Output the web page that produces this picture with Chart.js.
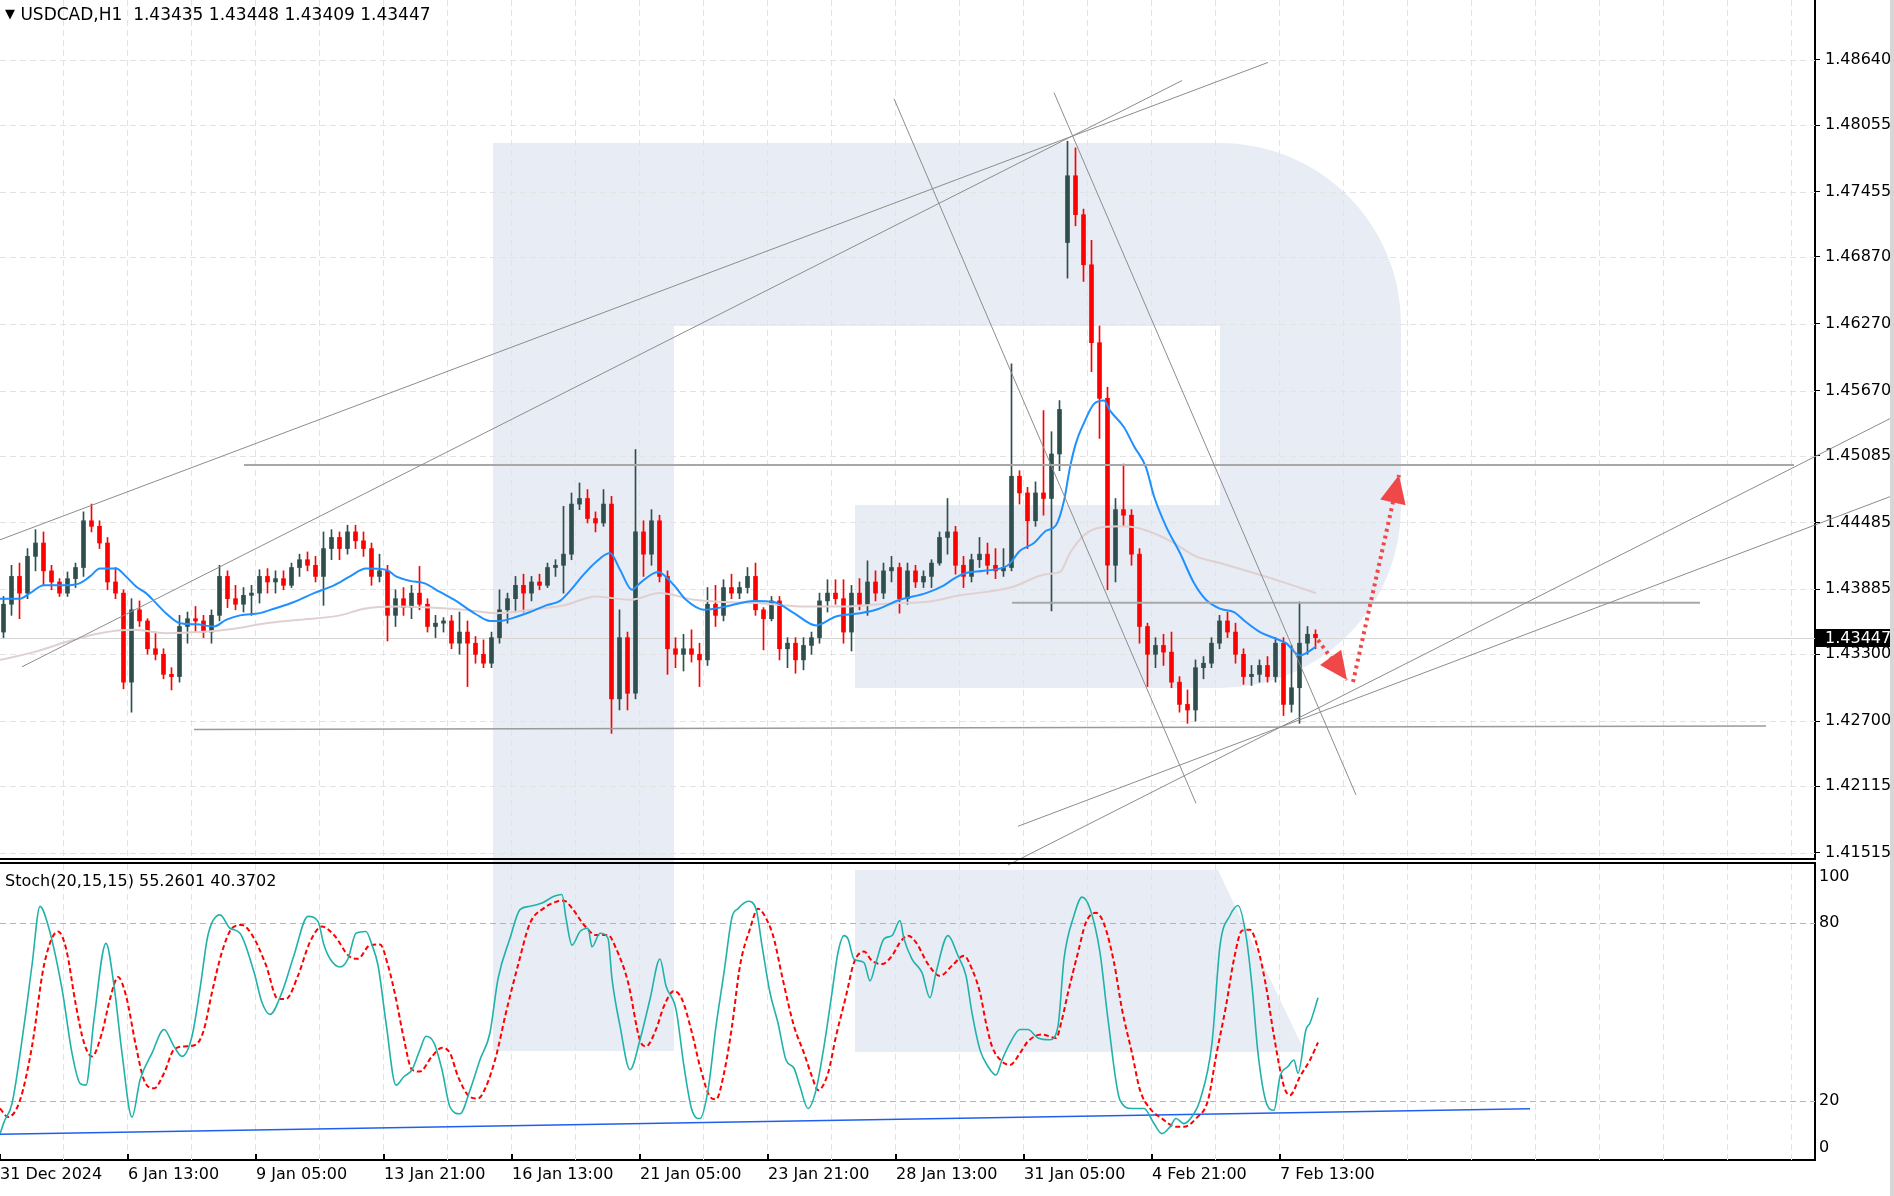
<!DOCTYPE html>
<html>
<head>
<meta charset="utf-8">
<script src="https://cdn.jsdelivr.net/npm/chart.js@4.4.1/dist/chart.umd.min.js"></script>
<style>
  html, body { margin: 0; padding: 0; background: #fff; }
  #wrap { position: relative; width: 1894px; height: 1196px; overflow: hidden; font-family: "DejaVu Sans", sans-serif; }
  canvas { position: absolute; left: 0; }
  #logo { top: 0; }
  #mainChart { top: 0; }
  #stochChart { top: 858px; }
  .label { position: absolute; font-size: 16px; color: #000; white-space: pre; }
  #edge { position: absolute; right: 0; top: 0; width: 4px; height: 1196px; background: #d6d6d6; }
</style>
</head>
<body>
<div id="wrap">
  <canvas id="logo" width="1894" height="1196"></canvas>
  <canvas id="mainChart" width="1894" height="866"></canvas>
  <canvas id="stochChart" width="1894" height="338"></canvas>
  <div class="label" id="head" style="left:5px;top:4px;font-size:17px"></div>
  <div class="label" id="stochHead" style="left:5px;top:871px"></div>
  <div id="edge"></div>
</div>
<script>
// =============================
// DATA (USDCAD H1, 4-hour candles)
// =============================
const timeLabels = ["31 Dec 2024", "6 Jan 13:00", "9 Jan 05:00", "13 Jan 21:00", "16 Jan 13:00",
  "21 Jan 05:00", "23 Jan 21:00", "28 Jan 13:00", "31 Jan 05:00", "4 Feb 21:00", "7 Feb 13:00"];
const tickBars = [0, 64, 128, 192, 256, 320, 384, 448, 512, 576, 640];
const priceTicks = [1.48640, 1.48055, 1.47455, 1.46870, 1.46270, 1.45670, 1.45085,
  1.44485, 1.43885, 1.43300, 1.42700, 1.42115, 1.41515];
const stochTicks = [0, 20, 80, 100];
const stochLevels = [20, 80];
const lastQuote = [1.43435, 1.43448, 1.43409, 1.43447];
const stochLast = [55.2601, 40.3702];

const opens = [
  1.4350,1.4375,1.4400,1.4385,1.4418,1.4430,1.4405,1.4395,1.4385,1.4398,
  1.4408,1.4450,1.4445,1.4430,1.4395,1.4385,1.4305,1.4370,1.4360,1.4335,
  1.4330,1.4312,1.4310,1.4355,1.4362,1.4360,1.4350,1.4365,1.4400,1.4380,
  1.4375,1.4383,1.4385,1.4400,1.4395,1.4398,1.4392,1.4408,1.4415,1.4410,
  1.4400,1.4425,1.4435,1.4425,1.4440,1.4432,1.4425,1.4400,1.4405,1.4365,
  1.4380,1.4372,1.4385,1.4375,1.4355,1.4358,1.4360,1.4340,1.4350,1.4340,
  1.4330,1.4322,1.4345,1.4370,1.4380,1.4392,1.4385,1.4395,1.4392,1.4408,
  1.4410,1.4420,1.4465,1.4470,1.4452,1.4448,1.4465,1.4290,1.4345,1.4295,
  1.4440,1.4420,1.4450,1.4400,1.4335,1.4330,1.4335,1.4330,1.4325,1.4375,
  1.4365,1.4390,1.4385,1.4390,1.4400,1.4370,1.4362,1.4378,1.4335,1.4340,
  1.4325,1.4338,1.4345,1.4378,1.4385,1.4380,1.4350,1.4385,1.4375,1.4395,
  1.4385,1.4405,1.4408,1.4380,1.4405,1.4395,1.4400,1.4412,1.4435,1.4440,
  1.4410,1.4400,1.4415,1.4420,1.4410,1.4405,1.4408,1.4490,1.4475,1.4450,
  1.4475,1.4470,1.4510,1.4700,1.4760,1.4725,1.4680,1.4610,1.4560,1.4410,
  1.4460,1.4455,1.4420,1.4355,1.4330,1.4338,1.4332,1.4305,1.4285,1.4280,
  1.4318,1.4322,1.4340,1.4360,1.4350,1.4330,1.4310,1.4312,1.4320,1.4310,
  1.4340,1.4285,1.4300,1.4340,1.4348];
const highs = [
  1.4382,1.4410,1.4412,1.4425,1.4442,1.4440,1.4410,1.4398,1.4404,1.4412,
  1.4458,1.4465,1.4450,1.4435,1.4408,1.4388,1.4380,1.4378,1.4362,1.4350,
  1.4335,1.4318,1.4365,1.4368,1.4373,1.4365,1.4370,1.4410,1.4405,1.4392,
  1.4390,1.4392,1.4406,1.4407,1.4405,1.4405,1.4412,1.4420,1.4422,1.4418,
  1.4440,1.4442,1.4440,1.4446,1.4446,1.4440,1.4430,1.4420,1.4410,1.4388,
  1.4390,1.4392,1.4409,1.4380,1.4365,1.4363,1.4365,1.4368,1.4360,1.4346,
  1.4343,1.4350,1.4388,1.4385,1.4400,1.4402,1.4400,1.4402,1.4412,1.4415,
  1.4463,1.4475,1.4484,1.4478,1.4458,1.4478,1.4472,1.4370,1.4350,1.4514,
  1.4450,1.4460,1.4455,1.4405,1.4345,1.4348,1.4352,1.4340,1.4390,1.4392,
  1.4397,1.4402,1.4395,1.4408,1.4412,1.4372,1.4382,1.4382,1.4345,1.4345,
  1.4345,1.4350,1.4385,1.4397,1.4397,1.4397,1.4392,1.4398,1.4414,1.4405,
  1.4412,1.4418,1.4412,1.4412,1.4410,1.4405,1.4415,1.4440,1.4470,1.4445,
  1.4418,1.4420,1.4435,1.4430,1.4425,1.4425,1.4591,1.4495,1.4480,1.4485,
  1.4549,1.4530,1.4558,1.4791,1.4785,1.4730,1.4702,1.4625,1.4570,1.4470,
  1.4501,1.4460,1.4425,1.4358,1.4345,1.4348,1.4350,1.4310,1.4298,1.4325,
  1.4328,1.4345,1.4365,1.4368,1.4358,1.4335,1.4320,1.4325,1.4328,1.4345,
  1.4345,1.4338,1.4377,1.4355,1.4352];
const lows = [
  1.4345,1.4365,1.4362,1.4380,1.4405,1.4392,1.4388,1.4382,1.4382,1.4390,
  1.4400,1.4440,1.4425,1.4388,1.4380,1.4299,1.4278,1.4355,1.4330,1.4325,
  1.4308,1.4298,1.4305,1.4340,1.4350,1.4345,1.4340,1.4360,1.4372,1.4370,
  1.4368,1.4365,1.4376,1.4385,1.4385,1.4388,1.4390,1.4400,1.4405,1.4395,
  1.4374,1.4415,1.4415,1.4420,1.4425,1.4418,1.4392,1.4395,1.4342,1.4355,
  1.4365,1.4362,1.4370,1.4350,1.4345,1.4350,1.4335,1.4330,1.4301,1.4322,
  1.4318,1.4318,1.4340,1.4358,1.4368,1.4368,1.4378,1.4388,1.4390,1.4400,
  1.4385,1.4415,1.4460,1.4448,1.4440,1.4445,1.4259,1.4280,1.4280,1.4290,
  1.4400,1.4410,1.4395,1.4312,1.4318,1.4315,1.4323,1.4301,1.4320,1.4355,
  1.4360,1.4380,1.4380,1.4385,1.4365,1.4334,1.4360,1.4325,1.4318,1.4313,
  1.4316,1.4330,1.4340,1.4368,1.4375,1.4340,1.4333,1.4370,1.4365,1.4378,
  1.4380,1.4395,1.4367,1.4375,1.4390,1.4390,1.4390,1.4410,1.4420,1.4402,
  1.4390,1.4395,1.4408,1.4402,1.4398,1.4400,1.4405,1.4465,1.4425,1.4445,
  1.4455,1.4369,1.4495,1.4668,1.4715,1.4665,1.4584,1.4524,1.4388,1.4395,
  1.4445,1.4410,1.4340,1.4301,1.4318,1.4320,1.4300,1.4278,1.4268,1.4270,
  1.4308,1.4318,1.4335,1.4345,1.4322,1.4303,1.4302,1.4305,1.4305,1.4305,
  1.4275,1.4278,1.4268,1.4330,1.4335];
const closes = [
  1.4375,1.4400,1.4385,1.4418,1.4430,1.4405,1.4395,1.4385,1.4398,1.4408,
  1.4450,1.4445,1.4430,1.4395,1.4385,1.4305,1.4370,1.4360,1.4335,1.4330,
  1.4312,1.4310,1.4355,1.4362,1.4360,1.4350,1.4365,1.4400,1.4380,1.4375,
  1.4383,1.4385,1.4400,1.4395,1.4398,1.4392,1.4408,1.4415,1.4410,1.4400,
  1.4425,1.4435,1.4425,1.4440,1.4432,1.4425,1.4400,1.4405,1.4365,1.4380,
  1.4372,1.4385,1.4375,1.4355,1.4358,1.4360,1.4340,1.4350,1.4340,1.4330,
  1.4322,1.4345,1.4370,1.4380,1.4392,1.4385,1.4395,1.4392,1.4408,1.4410,
  1.4420,1.4465,1.4470,1.4452,1.4448,1.4465,1.4290,1.4345,1.4295,1.4440,
  1.4420,1.4450,1.4400,1.4335,1.4330,1.4335,1.4330,1.4325,1.4375,1.4365,
  1.4390,1.4385,1.4390,1.4400,1.4370,1.4362,1.4378,1.4335,1.4340,1.4325,
  1.4338,1.4345,1.4378,1.4385,1.4380,1.4350,1.4385,1.4375,1.4395,1.4385,
  1.4405,1.4408,1.4380,1.4405,1.4395,1.4400,1.4412,1.4435,1.4440,1.4410,
  1.4400,1.4415,1.4420,1.4410,1.4405,1.4408,1.4490,1.4475,1.4450,1.4475,
  1.4470,1.4510,1.4550,1.4760,1.4725,1.4680,1.4610,1.4560,1.4410,1.4460,
  1.4455,1.4420,1.4355,1.4330,1.4338,1.4332,1.4305,1.4285,1.4280,1.4318,
  1.4322,1.4340,1.4360,1.4350,1.4330,1.4310,1.4312,1.4320,1.4310,1.4340,
  1.4285,1.4300,1.4340,1.4348,1.4345];

// moving averages (hour index -> price)
const maFastBars = [0,10,15,22,33,40,45,50,58,63,68,73,78,83,90,98,107,113,120,130,137,147,157,167,
  175,183,193,198,205,212,220,228,238,245,250,257,265,273,280,285,292,298,305,310,316,320,329,
  337,343,352,363,377,387,397,408,418,430,438,450,463,472,477,483,492,504,510,517,523,528,532,
  535,538,542,547,552,555,562,567,573,577,583,590,597,603,610,617,623,630,638,643,650,653,658];
const maFastVals = [1.4380,1.4380,1.4385,1.4392,1.4392,1.4394,1.4400,1.4407,1.4407,1.4400,1.4391,
  1.4385,1.4376,1.4367,1.4358,1.4357,1.4355,1.4361,1.4365,1.4367,1.4371,1.4377,1.4385,1.4392,
  1.4400,1.4407,1.4406,1.4400,1.4396,1.4394,1.4386,1.4378,1.4366,1.4360,1.4360,1.4363,1.4368,
  1.4374,1.4378,1.4387,1.4402,1.4413,1.4421,1.4406,1.4388,1.4394,1.4404,1.4392,1.4379,1.4370,
  1.4373,1.4378,1.4377,1.4367,1.4356,1.4364,1.4367,1.4370,1.4379,1.4385,1.4392,1.4398,1.4403,
  1.4405,1.4410,1.4423,1.4430,1.4441,1.4446,1.4468,1.4498,1.4520,1.4538,1.4555,1.4558,1.4549,
  1.4534,1.4517,1.4498,1.4472,1.4445,1.4421,1.4394,1.4379,1.4371,1.4368,1.4359,1.4350,1.4344,
  1.4340,1.4329,1.4331,1.4337];
const maSlowBars = [0,17,33,50,67,83,100,117,133,150,170,182,198,215,232,248,265,282,298,315,330,
  347,363,380,402,422,447,463,480,500,507,523,530,535,542,548,560,570,585,598,610,627,643,658];
const maSlowVals = [1.4325,1.4332,1.4341,1.4349,1.4352,1.4349,1.4350,1.4353,1.4358,1.4361,1.4365,
  1.4371,1.4373,1.4372,1.4370,1.4367,1.4370,1.4374,1.4382,1.4379,1.4385,1.4379,1.4377,1.4376,
  1.4373,1.4373,1.4376,1.4377,1.4383,1.4388,1.4391,1.4402,1.4404,1.4421,1.4437,1.4443,1.4445,
  1.4443,1.4432,1.4418,1.4412,1.4403,1.4394,1.4385];

// stochastic (hour index -> value)
const stochKBars = [0,2,6,12,16,20,24,31,36,40,43,47,53,57,61,66,70,76,82,87,91,96,100,104,110,115,
  120,127,131,135,141,147,154,159,162,165,170,174,178,183,186,189,193,198,202,206,210,213,217,221,
  225,230,235,240,245,249,255,260,265,271,277,281,283,286,290,294,296,300,304,306,310,315,320,325,
  330,333,338,342,346,350,354,358,362,366,369,374,378,381,385,389,393,397,400,404,408,412,416,419,
  422,424,427,432,435,438,442,446,450,452,456,461,465,468,474,479,483,486,490,494,498,501,505,510,
  514,519,525,529,532,537,541,545,550,554,560,566,572,577,581,585,588,592,597,600,606,610,615,619,
  623,626,629,633,637,640,644,647,649,653,655,659];
const stochKVals = [8.8,12.8,19.1,45.3,65.8,85.7,79.4,57.8,36.1,25.9,25.3,47.5,73.2,58.9,36.1,14.5,
  27.0,36.1,44.1,38.4,35.0,41.8,57.8,76.0,82.8,78.3,76.6,63.5,53.2,49.2,56.7,69.2,82.3,80.6,72.6,
  68.0,65.2,68.0,76.6,77.2,72.6,65.8,46.4,25.3,28.2,30.5,37.3,41.8,39.6,30.5,17.9,15.6,23.6,33.9,
  43.0,61.2,74.9,84.6,85.7,86.8,89.1,89.7,81.7,72.6,77.2,78.3,72.0,76.6,74.9,61.2,45.3,30.5,40.6,
  54.3,67.9,58.8,50.9,31.6,16.8,14.0,23.6,45.2,63.3,82.0,84.9,87.4,84.9,72.4,56.5,46.3,33.8,31.0,
  24.8,17.4,23.6,38.4,56.5,70.1,75.8,74.7,67.9,66.7,60.5,66.7,74.7,75.8,80.9,74.7,67.9,63.3,54.8,
  63.3,75.8,69.0,62.2,49.7,37.2,31.6,28.7,33.8,39.5,44.1,44.1,41.2,40.6,45.2,67.9,82.6,88.8,84.9,
  70.1,47.5,20.2,17.4,17.4,12.3,8.9,11.2,14.0,12.3,15.7,20.2,39.5,72.4,82.6,86.0,75.8,58.8,36.1,
  19.7,16.8,28.2,31.6,33.8,29.3,44.1,46.3,54.8];
const stochDBars = [0,4,10,16,22,29,33,38,42,46,51,55,59,63,68,72,77,82,87,93,98,102,106,111,116,121,
  127,133,139,143,149,155,161,167,175,179,185,190,194,198,202,206,210,216,221,225,229,235,239,243,
  248,253,259,265,272,278,282,286,292,298,304,308,314,320,323,328,332,337,341,346,350,355,358,362,
  366,370,375,379,384,387,391,397,402,406,409,414,418,423,427,432,436,441,446,450,454,458,464,470,
  476,482,486,490,493,496,501,505,510,514,521,528,531,534,539,543,548,552,557,561,566,570,575,581,
  588,592,598,604,608,613,617,621,625,629,633,637,642,645,650,655,659];
const stochDVals = [17.4,14.5,20.2,38.4,65.8,77.2,71.5,52.1,39.6,35.0,43.0,54.4,61.8,55.5,38.4,27.0,
  24.2,29.3,37.3,38.4,39.0,44.1,56.7,70.3,78.3,79.4,74.9,65.8,54.4,54.4,62.3,73.7,78.9,76.0,68.6,
  68.0,72.6,72.8,65.8,54.4,40.7,30.5,29.9,35.0,37.9,36.1,28.2,21.3,20.8,24.8,35.0,49.8,65.8,80.0,
  85.1,87.2,87.6,85.1,79.4,76.0,76.0,71.5,60.1,40.4,38.4,44.1,52.0,57.1,54.3,42.9,31.6,21.4,20.5,
  29.3,45.2,65.6,78.1,84.9,80.3,74.7,62.2,45.2,36.1,28.2,23.6,29.3,41.8,55.4,66.7,70.4,67.3,66.2,
  69.0,73.5,75.8,73.5,66.2,62.2,65.6,69.0,64.5,56.5,46.3,38.4,33.3,32.1,36.1,40.1,42.4,41.2,47.5,
  56.5,70.1,80.3,83.5,79.8,66.7,50.9,36.1,23.6,17.4,14.0,11.2,11.2,14.0,20.2,35.0,52.0,67.9,77.5,
  77.8,71.3,58.8,41.8,24.8,21.9,28.2,33.8,39.7];

// drawn objects: [hour index, price]
const fanUpper = [[0, 1.44329], [634, 1.48618]];
const fanLower = [[11, 1.43188], [591, 1.48455]];
const fallLeft = [[447, 1.48292], [598, 1.41961]];
const fallRight = [[527, 1.48347], [678, 1.42037]];
const riseSteep = [[504, 1.41407], [947, 1.45436]];
const riseFlat = [[509, 1.41755], [947, 1.44730]];
const levelTop = [[122, 1.45000], [897, 1.45000]];
const levelMid = [[506, 1.43764], [850, 1.43764]];
const levelLow = [[97, 1.42624], [883, 1.42656]];
const arrowDown = [[659, 1.43429], [673.5, 1.43069]];
const arrowUp = [[676.5, 1.43051], [699.5, 1.44911]];
const stochTrend = [[0, 8.7], [765, 17.3]];

// =============================
// SETUP
// =============================
const BULL = "#2f4f4f";
const BEAR = "#ff0000";
Chart.defaults.font.family = "DejaVu Sans";
Chart.defaults.font.size = 16;
Chart.defaults.color = "#000";

document.getElementById("head").innerHTML =
  '<span style="font-size:13px;position:relative;top:-2px">\u25BC</span> USDCAD,H1  ' +
  lastQuote.map(v => v.toFixed(5)).join(" ");
document.getElementById("stochHead").textContent =
  "Stoch(20,15,15) " + stochLast.map(v => v.toFixed(4)).join(" ");

// background logo
const lg = document.getElementById("logo").getContext("2d");
lg.fillStyle = "#e8ecf4";
lg.beginPath();
lg.moveTo(493, 143);
lg.lineTo(1220, 143);
lg.arc(1220, 324, 181, -Math.PI / 2, 0);
lg.lineTo(1401, 507);
lg.arc(1220, 507, 181, 0, Math.PI / 2);
lg.lineTo(855, 688);
lg.lineTo(855, 505);
lg.lineTo(1220, 505);
lg.lineTo(1220, 326);
lg.lineTo(674, 326);
lg.lineTo(674, 1051);
lg.lineTo(493, 1051);
lg.closePath();
lg.fill();
lg.beginPath();
lg.moveTo(855, 870);
lg.lineTo(1218, 870);
lg.lineTo(1305, 1052);
lg.lineTo(855, 1052);
lg.closePath();
lg.fill();

const toXY = (bars, vals) => bars.map((b, i) => ({ x: b, y: vals[i] }));
const pairXY = pts => pts.map(p => ({ x: p[0], y: p[1] }));
const candleX = opens.map((_, i) => i * 4 + 1.75);
const candleColor = c => closes[c.dataIndex] >= opens[c.dataIndex] ? BULL : BEAR;

function objLine(pts, color, width, extra) {
  return Object.assign({ type: "line", data: pairXY(pts), borderColor: color, borderWidth: width,
    pointRadius: 0, order: 2 }, extra || {});
}

// grid, bid line, frames
const mtGrid = {
  id: "mtGrid",
  beforeDatasetsDraw(chart, args, opts) {
    const { ctx, chartArea: a, scales: { x, y } } = chart;
    ctx.save();
    ctx.lineWidth = 1;
    ctx.setLineDash([6, 4]);
    ctx.strokeStyle = "#e3e3e3";
    ctx.beginPath();
    for (let b = 32; b <= x.max; b += 32) {
      const px = Math.round(x.getPixelForValue(b)) - 0.5;
      ctx.moveTo(px, a.top);
      ctx.lineTo(px, a.bottom);
    }
    ctx.stroke();
    ctx.strokeStyle = opts.color;
    ctx.beginPath();
    opts.levels.forEach(v => {
      const py = Math.round(y.getPixelForValue(v)) + 0.5;
      ctx.moveTo(a.left, py);
      ctx.lineTo(a.right, py);
    });
    ctx.stroke();
    if (opts.bid) {
      ctx.setLineDash([]);
      ctx.strokeStyle = "#d4d4d4";
      const py = Math.round(y.getPixelForValue(lastQuote[3])) + 0.5;
      ctx.beginPath();
      ctx.moveTo(a.left, py);
      ctx.lineTo(a.right, py);
      ctx.stroke();
    }
    ctx.restore();
  },
  afterDatasetsDraw(chart, args, opts) {
    if (!opts.arrows) return;
    const { ctx, scales: { x, y } } = chart;
    ctx.save();
    ctx.fillStyle = "#f04848";
    [arrowDown, arrowUp].forEach(seg => {
      const x0 = x.getPixelForValue(seg[0][0]), y0 = y.getPixelForValue(seg[0][1]);
      const x1 = x.getPixelForValue(seg[1][0]), y1 = y.getPixelForValue(seg[1][1]);
      const ang = Math.atan2(y1 - y0, x1 - x0);
      const L = 28, W = 13;
      const bx = x1 - L * Math.cos(ang), by = y1 - L * Math.sin(ang);
      ctx.beginPath();
      ctx.moveTo(x1, y1);
      ctx.lineTo(bx + W * Math.sin(ang), by - W * Math.cos(ang));
      ctx.lineTo(bx - W * Math.sin(ang), by + W * Math.cos(ang));
      ctx.closePath();
      ctx.fill();
    });
    ctx.restore();
  },
  afterDraw(chart, args, opts) {
    const { ctx, chartArea: a, scales: { x, y } } = chart;
    ctx.save();
    ctx.fillStyle = "#000";
    if (opts.frame === "main") {
      ctx.fillRect(0, a.bottom, a.right + 1, 2);
      const py = Math.round(y.getPixelForValue(lastQuote[3]));
      ctx.fillRect(a.right, py - 9, 76, 18);
      ctx.fillStyle = "#fff";
      ctx.font = '16px "DejaVu Sans"';
      ctx.textBaseline = "middle";
      ctx.fillText(lastQuote[3].toFixed(5), a.right + 10, py + 1);
    } else {
      ctx.fillRect(0, a.top - 2, a.right + 1, 2);
      tickBars.forEach(b => {
        const px = Math.round(x.getPixelForValue(b)) - 1;
        ctx.fillRect(px, a.bottom - 6, 2, 6);
      });
    }
    ctx.restore();
  }
};

// =============================
// PRICE CHART
// =============================
new Chart(document.getElementById("mainChart"), {
  type: "bar",
  data: {
    datasets: [
      objLine(fanUpper, "#8c8c8c", 1),
      objLine(fanLower, "#8c8c8c", 1),
      objLine(fallLeft, "#8c8c8c", 1),
      objLine(fallRight, "#8c8c8c", 1),
      objLine(riseSteep, "#8c8c8c", 1, { clip: false }),
      objLine(riseFlat, "#8c8c8c", 1, { clip: false }),
      objLine(levelTop, "#a8a8a8", 2),
      objLine(levelMid, "#a8a8a8", 2),
      objLine(levelLow, "#9a9a9a", 1.5),
      objLine(arrowDown, "#f04848", 4, { borderDash: [3, 4], order: 1 }),
      objLine(arrowUp, "#f04848", 4, { borderDash: [3, 4], order: 1 }),
      { type: "line", data: toXY(maSlowBars, maSlowVals), borderColor: "#e0d0d0", borderWidth: 2,
        pointRadius: 0, cubicInterpolationMode: "monotone", order: 4 },
      { type: "line", data: toXY(maFastBars, maFastVals), borderColor: "#1e90ff", borderWidth: 2,
        pointRadius: 0, cubicInterpolationMode: "monotone", order: 3 },
      { data: candleX.map((x, i) => ({ x, y: [lows[i], highs[i]] })), backgroundColor: candleColor,
        barThickness: 1, grouped: false, order: 9 },
      { data: candleX.map((x, i) => ({ x, y: [opens[i], closes[i]] })), backgroundColor: candleColor,
        barThickness: 4, grouped: false, minBarLength: 1, order: 8 }
    ]
  },
  options: {
    responsive: false,
    animation: false,
    events: [],
    devicePixelRatio: 1,
    layout: { padding: { top: 0, bottom: 8, left: 0, right: 0 } },
    plugins: {
      legend: { display: false },
      tooltip: { enabled: false },
      mtGrid: { levels: priceTicks, color: "#e3e3e3", bid: true, arrows: true, frame: "main" }
    },
    scales: {
      x: { type: "linear", min: 0, max: 907.5, offset: false, display: false },
      y: {
        position: "right",
        min: 1.41470,
        max: 1.49179,
        afterBuildTicks: s => { s.ticks = priceTicks.map(v => ({ value: v })); },
        afterFit: s => { s.width = 79; s.paddingTop = 0; s.paddingBottom = 0; },
        ticks: { callback: v => v.toFixed(5), padding: 5, autoSkip: false },
        grid: { drawOnChartArea: false, drawTicks: true, tickLength: 5, color: "#000" },
        border: { display: true, color: "#000", width: 2 }
      }
    }
  },
  plugins: [mtGrid]
});

// =============================
// STOCHASTIC
// =============================
// labels for 0 and 100 sit just inside the panel edges, as in the terminal
const stochLabelPos = v => (v === 100 ? 95.6 : v === 0 ? 4.2 : v);

new Chart(document.getElementById("stochChart"), {
  type: "line",
  data: {
    datasets: [
      { data: pairXY(stochTrend), borderColor: "#1f5ff0", borderWidth: 1.5, pointRadius: 0, order: 3 },
      { data: toXY(stochDBars, stochDVals), borderColor: "#ff0000", borderWidth: 2, borderDash: [5, 3],
        pointRadius: 0, cubicInterpolationMode: "monotone", order: 2 },
      { data: toXY(stochKBars, stochKVals), borderColor: "#20b2aa", borderWidth: 1.6,
        pointRadius: 0, cubicInterpolationMode: "monotone", order: 1 }
    ]
  },
  options: {
    responsive: false,
    animation: false,
    events: [],
    devicePixelRatio: 1,
    layout: { padding: { top: 6, bottom: 0, left: 0, right: 0 } },
    plugins: {
      legend: { display: false },
      tooltip: { enabled: false },
      mtGrid: { levels: stochLevels, color: "#b4b4b4", frame: "stoch" }
    },
    scales: {
      x: {
        type: "linear", min: 0, max: 907.5, offset: false,
        afterBuildTicks: s => { s.ticks = tickBars.map(v => ({ value: v })); },
        afterFit: s => { s.height = 36; s.paddingLeft = 0; s.paddingRight = 0; },
        ticks: { callback: (v, i) => timeLabels[i], align: "start", autoSkip: false, maxRotation: 0, padding: -3 },
        grid: { display: false },
        border: { display: true, color: "#000", width: 2 }
      },
      y: {
        position: "right",
        min: 0,
        max: 100,
        afterBuildTicks: s => { s.ticks = stochTicks.map(v => ({ value: stochLabelPos(v) })); },
        afterFit: s => { s.width = 79; s.paddingTop = 0; s.paddingBottom = 0; },
        ticks: { callback: (v, i) => String(stochTicks[i]), padding: 4, autoSkip: false },
        grid: { display: false, drawTicks: false },
        border: { display: true, color: "#000", width: 2 }
      }
    }
  },
  plugins: [mtGrid]
});
</script>
</body>
</html>
